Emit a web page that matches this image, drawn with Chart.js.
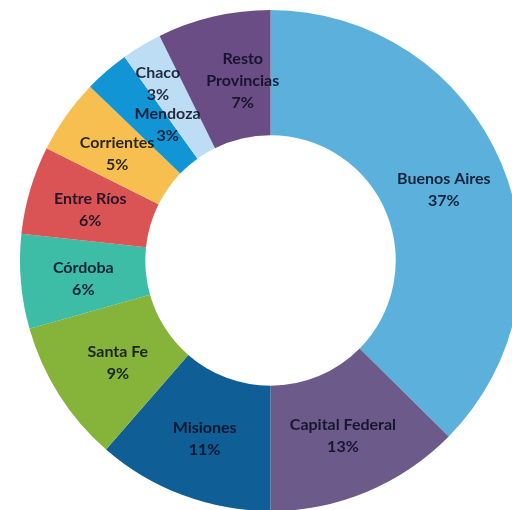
<!DOCTYPE html>
<html>
<head>
<meta charset="utf-8">
<script src="https://cdn.jsdelivr.net/npm/chart.js@4"></script>
<style>
  html, body { margin: 0; padding: 0; background: #fff; overflow: hidden; }
  /* chart is a bit bigger than the window, the ring is cut on the right/bottom like the original */
  .chart-wrap { position: relative; width: 541px; height: 521px; }
</style>
</head>
<body>
<div class="chart-wrap"><canvas id="provChart"></canvas></div>
<script>
// provinces, clockwise from 12 o'clock
const provinces = ['Buenos Aires', 'Capital Federal', 'Misiones', 'Santa Fe', 'Córdoba',
                   'Entre Ríos', 'Corrientes', 'Mendoza', 'Chaco', 'Resto Provincias'];
const shares = [37.4, 12.6, 11.4, 9.2, 6.1, 5.7, 4.8, 2.9, 2.6, 7.3];
const sliceColors = ['#5BB1DC', '#6B5A8A', '#0F5F96', '#86B33A', '#3DBCA6',
                     '#DA5456', '#F6BF50', '#1195D5', '#BCDDF3', '#6B4D85'];

// label text lines (name may wrap)
const labelLines = {
  'Resto Provincias': ['Resto', 'Provincias']
};
// small nudges where the original moved labels apart
const labelNudge = {
  'Chaco': [-16, -18],
  'Mendoza': [20, 4],
  'Resto Provincias': [15, 1],
  'Santa Fe': [6, 0]
};

const sliceLabels = {
  id: 'sliceLabels',
  afterDatasetsDraw(chart) {
    const ctx = chart.ctx;
    const meta = chart.getDatasetMeta(0);
    ctx.save();
    ctx.font = 'bold 16px Lato, sans-serif';
    ctx.textAlign = 'center';
    ctx.textBaseline = 'middle';
    ctx.fillStyle = 'rgba(8,10,30,0.85)';
    meta.data.forEach((arc, i) => {
      const name = provinces[i];
      const p = arc.tooltipPosition();
      const nudge = labelNudge[name] || [0, 0];
      const lines = (labelLines[name] || [name]).concat(Math.round(shares[i]) + '%');
      const lh = 22;
      const y0 = p.y + 2 + nudge[1] - (lines.length - 1) * lh / 2;
      lines.forEach((t, k) => ctx.fillText(t, p.x + nudge[0], y0 + k * lh));
    });
    ctx.restore();
  }
};

new Chart(document.getElementById('provChart'), {
  type: 'doughnut',
  data: {
    labels: provinces,
    datasets: [{
      data: shares,
      backgroundColor: sliceColors,
      borderWidth: 0
    }]
  },
  options: {
    responsive: true,
    maintainAspectRatio: false,
    animation: false,
    cutout: '50%',
    layout: { padding: 10 },
    plugins: {
      legend: { display: false },
      tooltip: { enabled: false }
    }
  },
  plugins: [sliceLabels]
});
</script>
</body>
</html>
